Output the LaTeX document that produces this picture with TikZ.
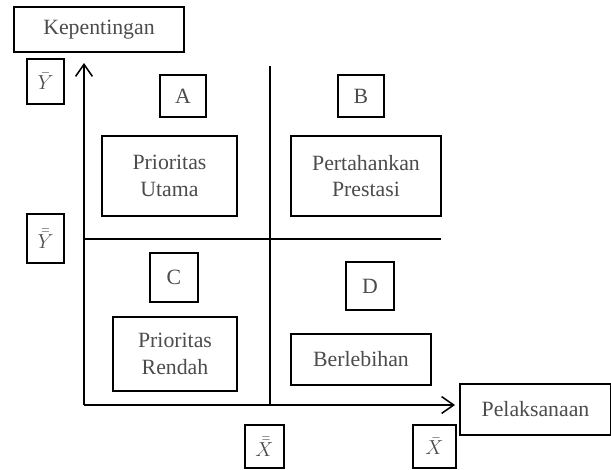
\documentclass[tikz,border=0pt]{standalone}
\usepackage{amsmath}
\usepackage{fontspec}
\setmainfont{Liberation Serif}
\usetikzlibrary{arrows,arrows.meta,positioning}
\tikzstyle{box}=[draw, fill=white, align=center, inner sep=0pt, text=black!70]

\begin{document}
\begin{tikzpicture}[x=0.025cm,y=-0.025cm,>={Straight Barb[length=3mm,width=4.2mm]},line width=1.1pt,font=\fontsize{15.5}{19}\selectfont]
\useasboundingbox (0,0) rectangle (611,469);
% sumbu dan garis kuadran
\coordinate (o) at (84,405);
\coordinate (ytop) at (84,63);
\coordinate (xend) at (455,405);
\coordinate (vtop) at (270,66);
\coordinate (vbot) at (270,405);
\coordinate (hleft) at (84,239);
\coordinate (hright) at (441,239);
\draw[->] (o) -- (ytop);
\draw[->] (o) -- (xend);
\draw (vtop) -- (vbot);
\draw (hleft) -- (hright);
% label sumbu
\node [box,minimum width=4.25cm,minimum height=1.125cm] (kep) at (99,29.5) {Kepentingan};
\node [box,minimum width=3.775cm,minimum height=1.275cm] (pel) at (535.5,409.5) {Pelaksanaan};
\node [box,minimum width=0.925cm,minimum height=1.125cm] (ybar) at (45.5,81.5) {$\bar{Y}$};
\node [box,minimum width=0.925cm,minimum height=1.225cm] (ybarbar) at (45.5,238.5) {$\bar{\bar{Y}}$};
\node [box,minimum width=0.975cm,minimum height=1.075cm] (xbarbar) at (264.5,446.5) {$\bar{\bar{X}}$};
\node [box,minimum width=1.075cm,minimum height=1.075cm] (xbar) at (434.5,446.5) {$\bar{X}$};
% kuadran
\node [box,minimum width=1.15cm,minimum height=1.05cm] (a) at (183,96) {A};
\node [box,minimum width=1.15cm,minimum height=1.05cm] (b) at (361,96) {B};
\node [box,minimum width=1.2cm,minimum height=1.225cm] (c) at (174,277.5) {C};
\node [box,minimum width=1.2cm,minimum height=1.2cm] (d) at (370,286) {D};
\node [box,minimum width=3.375cm,minimum height=2cm] (pu) at (169.5,176) {Prioritas\\Utama};
\node [box,minimum width=3.75cm,minimum height=2cm] (pp) at (366,176) {Pertahankan\\Prestasi};
\node [box,minimum width=3.1cm,minimum height=1.85cm] (pr) at (175,354) {Prioritas\\Rendah};
\node [box,minimum width=3.5cm,minimum height=1.275cm] (bl) at (361,359.5) {Berlebihan};
\end{tikzpicture}
\end{document}
